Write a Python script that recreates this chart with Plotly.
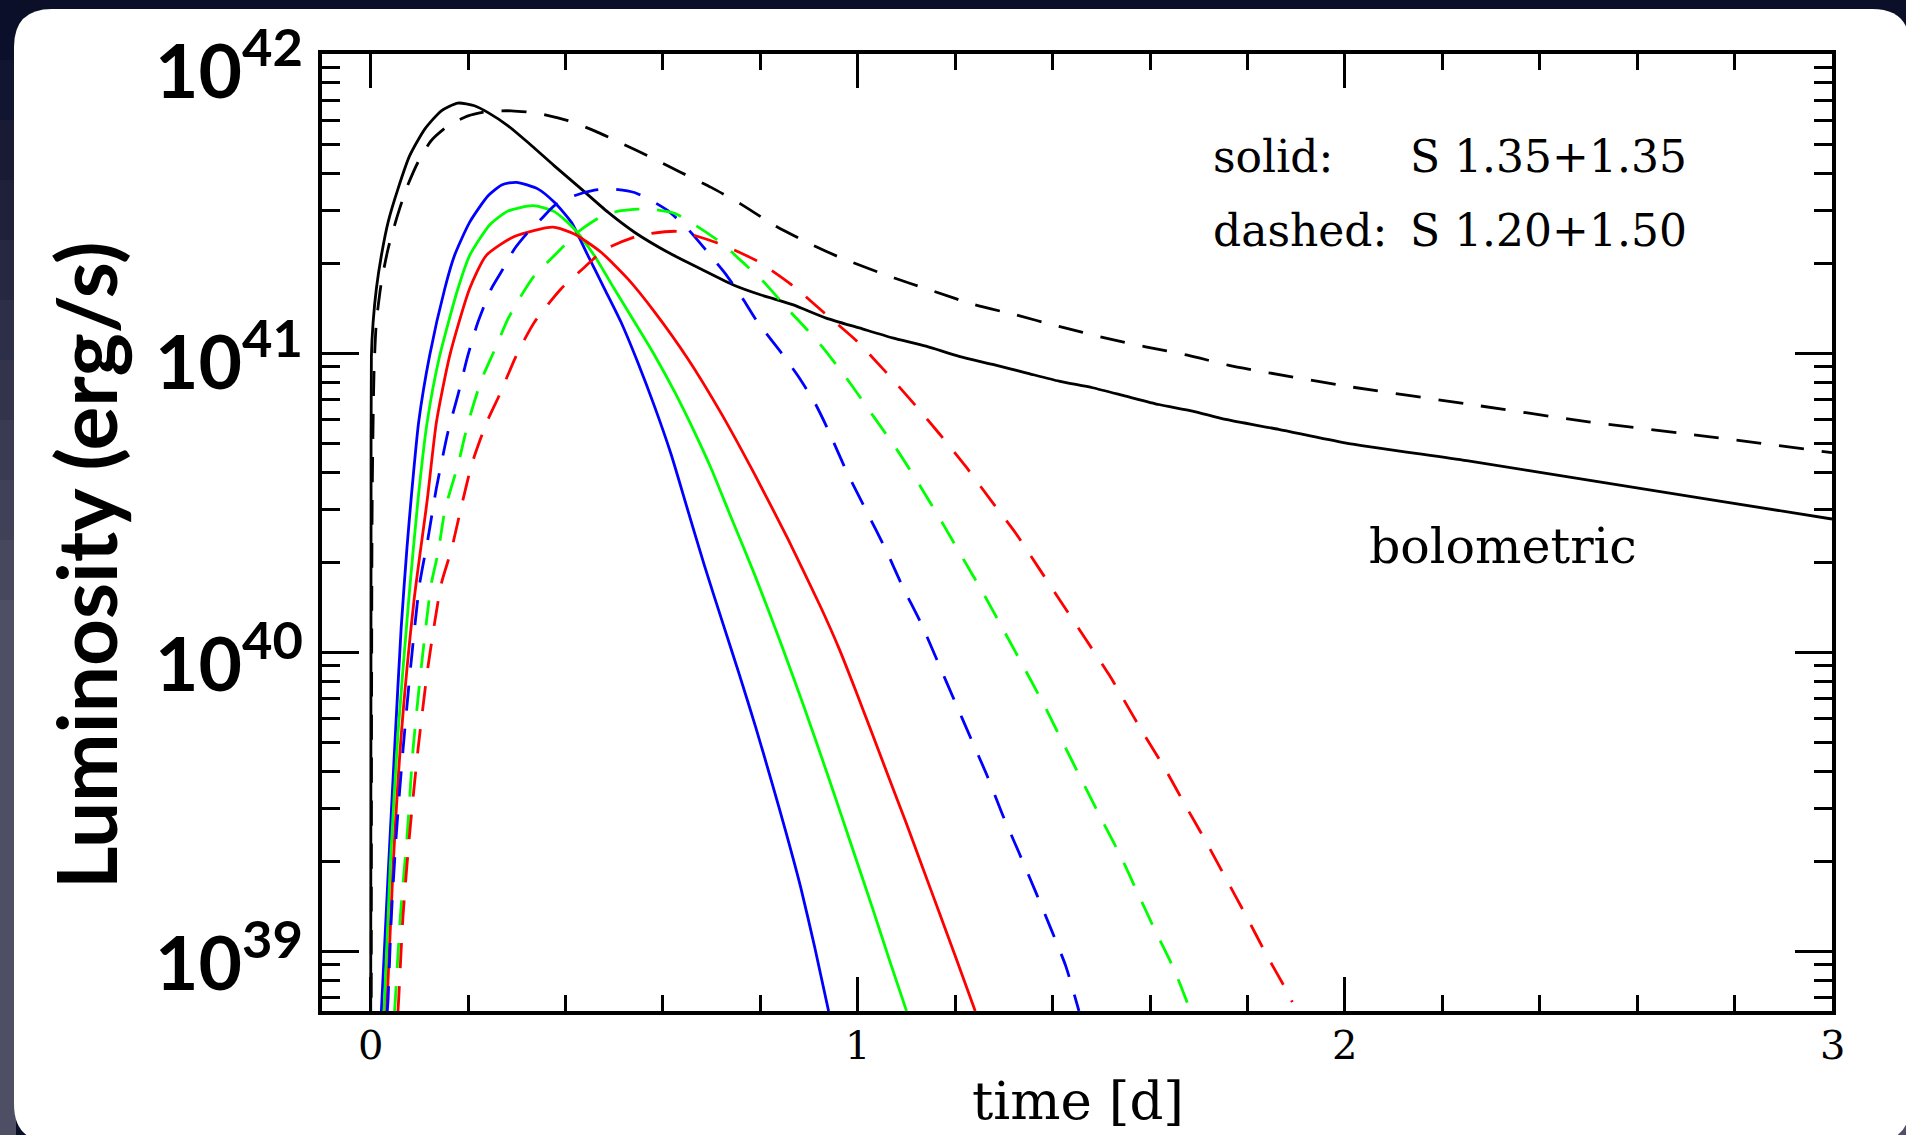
import numpy as np
import plotly.graph_objects as go

# ---------------- data (time in days, log10 luminosity in erg/s) ----------------
bol_solid_t = [0.0, 0.0007, 0.0014, 0.0048, 0.0116, 0.0219, 0.0356, 0.056, 0.080, 0.111,
               0.145, 0.179, 0.213, 0.241, 0.282, 0.323, 0.377, 0.432, 0.487, 0.5415,
               0.61, 0.678, 0.747, 0.80, 0.866, 0.935, 1.003, 1.071, 1.140, 1.208,
               1.277, 1.345, 1.413, 1.482, 1.550, 1.618, 1.687, 1.755, 1.864, 2.0,
               2.25, 2.5, 2.75, 3.0]
bol_solid_logL = [38.7, 40.5, 40.99, 41.10, 41.215, 41.326, 41.437, 41.549, 41.66, 41.749,
                  41.81, 41.836, 41.827, 41.804, 41.76, 41.704, 41.626, 41.549, 41.471, 41.404,
                  41.337, 41.281, 41.226, 41.195, 41.162, 41.117, 41.084, 41.051, 41.023, 40.989,
                  40.962, 40.934, 40.906, 40.884, 40.856, 40.828, 40.806, 40.778, 40.745, 40.70,
                  40.64, 40.575, 40.51, 40.445]

bol_dash_t = [0.001, 0.003, 0.0068, 0.0116, 0.0219, 0.0356, 0.0527, 0.073, 0.097, 0.124,
              0.159, 0.20, 0.241, 0.289, 0.343, 0.405, 0.4595, 0.514, 0.576, 0.637,
              0.699, 0.760, 0.833, 0.905, 0.966, 1.075, 1.157, 1.239, 1.321, 1.413,
              1.507, 1.591, 1.677, 1.762, 1.844, 2.0, 2.25, 2.5, 2.75, 3.0]
bol_dash_logL = [38.7, 40.5, 40.937, 41.103, 41.237, 41.348, 41.448, 41.549, 41.638, 41.71,
                 41.76, 41.793, 41.808, 41.81, 41.802, 41.777, 41.743, 41.702, 41.654, 41.604,
                 41.554, 41.498, 41.423, 41.363, 41.318, 41.251, 41.206, 41.162, 41.129, 41.089,
                 41.051, 41.021, 40.993, 40.959, 40.934, 40.89, 40.83, 40.77, 40.72, 40.667]

blue_solid_t = [0.0219, 0.0356, 0.0492, 0.0625, 0.0745, 0.0834, 0.0985, 0.121, 0.152, 0.172,
                0.203, 0.241, 0.270, 0.299, 0.343, 0.377, 0.412, 0.446, 0.48, 0.514,
                0.548, 0.583, 0.617, 0.650, 0.685, 0.723, 0.757, 0.790, 0.822, 0.853,
                0.883, 0.912, 0.940]
blue_solid_logL = [38.80, 39.25, 39.68, 40.08, 40.35, 40.52, 40.77, 40.992, 41.215, 41.326,
                   41.437, 41.526, 41.563, 41.571, 41.549, 41.504, 41.437, 41.326, 41.215, 41.103,
                   40.97, 40.82, 40.66, 40.48, 40.29, 40.096, 39.924, 39.751, 39.573, 39.395,
                   39.212, 39.01, 38.80]

green_solid_t = [0.0274, 0.040, 0.056, 0.078, 0.097, 0.116, 0.1415, 0.179, 0.203, 0.245,
                 0.282, 0.333, 0.377, 0.418, 0.459, 0.5, 0.542, 0.583, 0.624, 0.665,
                 0.70, 0.74, 0.788, 0.842, 0.89, 0.938, 0.965, 0.996, 1.030, 1.065,
                 1.100]
green_solid_logL = [38.80, 39.284, 39.729, 40.174, 40.508, 40.77, 40.99, 41.215, 41.326, 41.43,
                    41.475, 41.493, 41.473, 41.415, 41.326, 41.215, 41.103, 40.992, 40.87, 40.735,
                    40.61, 40.45, 40.26, 40.03, 39.815, 39.59, 39.46, 39.31, 39.145, 38.97,
                    38.80]

red_solid_t = [0.0328, 0.046, 0.063, 0.089, 0.116, 0.135, 0.162, 0.203, 0.237, 0.295,
               0.374, 0.418, 0.473, 0.528, 0.583, 0.651, 0.719, 0.788, 0.856, 0.924,
               0.962, 0.996, 1.030, 1.065, 1.099, 1.133, 1.167, 1.201, 1.241]
red_solid_logL = [38.80, 39.284, 39.729, 40.174, 40.508, 40.77, 40.99, 41.215, 41.326, 41.39,
                  41.421, 41.398, 41.337, 41.248, 41.137, 40.981, 40.80, 40.595, 40.38, 40.15,
                  40.01, 39.87, 39.725, 39.575, 39.43, 39.28, 39.13, 38.98, 38.80]

blue_dash_t = [0.034, 0.0356, 0.0424, 0.0527, 0.0663, 0.082, 0.1005, 0.1176, 0.1347, 0.1586,
               0.179, 0.1995, 0.22, 0.2475, 0.2715, 0.295, 0.323, 0.35, 0.377, 0.418,
               0.4595, 0.494, 0.5415, 0.576, 0.61, 0.651, 0.692, 0.726, 0.76, 0.7945,
               0.842, 0.8766, 0.911, 0.938, 0.977, 1.017, 1.058, 1.092, 1.130, 1.164,
               1.198, 1.232, 1.266, 1.297, 1.331, 1.366, 1.397, 1.427, 1.454]
blue_dash_logL = [38.80, 38.839, 39.117, 39.395, 39.673, 39.951, 40.229, 40.38, 40.547, 40.736,
                  40.859, 40.992, 41.103, 41.215, 41.281, 41.348, 41.404, 41.448, 41.493, 41.526,
                  41.545, 41.549, 41.537, 41.51, 41.476, 41.415, 41.337, 41.27, 41.192, 41.103,
                  41.003, 40.925, 40.836, 40.747, 40.604, 40.474, 40.341, 40.219, 40.096, 39.968,
                  39.84, 39.712, 39.585, 39.457, 39.329, 39.195, 39.073, 38.95, 38.80]

green_dash_t = [0.049, 0.0506, 0.0609, 0.0752, 0.0868, 0.1039, 0.1244, 0.138, 0.153, 0.179,
                0.1995, 0.227, 0.254, 0.282, 0.309, 0.336, 0.377, 0.429, 0.477, 0.514,
                0.569, 0.624, 0.668, 0.723, 0.760, 0.801, 0.856, 0.897, 0.93, 0.984,
                1.034, 1.082, 1.130, 1.175, 1.217, 1.261, 1.302, 1.343, 1.384, 1.422,
                1.461, 1.5, 1.540, 1.575, 1.612, 1.649, 1.683]
green_dash_logL = [38.80, 38.839, 39.117, 39.395, 39.673, 39.951, 40.229, 40.33, 40.48, 40.625,
                   40.764, 40.909, 41.009, 41.115, 41.192, 41.259, 41.326, 41.409, 41.46, 41.476,
                   41.482, 41.467, 41.426, 41.365, 41.309, 41.248, 41.148, 41.076, 41.015, 40.90,
                   40.784, 40.673, 40.55, 40.428, 40.31, 40.187, 40.065, 39.943, 39.818, 39.694,
                   39.568, 39.442, 39.317, 39.193, 39.064, 38.94, 38.80]

red_dash_t = [0.056, 0.0574, 0.0663, 0.08, 0.097, 0.1176, 0.145, 0.1655, 0.186, 0.208,
              0.2386, 0.2646, 0.299, 0.336, 0.391, 0.439, 0.48, 0.552, 0.630, 0.712,
              0.7945, 0.866, 0.932, 0.996, 1.054, 1.112, 1.167, 1.222, 1.273, 1.325,
              1.372, 1.420, 1.468, 1.516, 1.542, 1.586, 1.631, 1.672, 1.716, 1.757,
              1.798, 1.837, 1.880, 1.892]
red_dash_logL = [38.80, 38.839, 39.117, 39.395, 39.673, 39.951, 40.229, 40.341, 40.486, 40.631,
                 40.77, 40.861, 40.992, 41.103, 41.215, 41.287, 41.346, 41.393, 41.407, 41.368,
                 41.307, 41.226, 41.133, 41.043, 40.943, 40.837, 40.731, 40.62, 40.508, 40.396,
                 40.28, 40.161, 40.043, 39.924, 39.852, 39.729, 39.609, 39.489, 39.363, 39.239,
                 39.116, 38.994, 38.869, 38.83]

x_tick_vals = [0, 1, 2, 3]
x_tick_text = ["0", "1", "2", "3"]
y_tick_vals = [1e39, 1e40, 1e41, 1e42]
y_tick_text = ["10<sup>39</sup>", "10<sup>40</sup>", "10<sup>41</sup>", "10<sup>42</sup>"]
y_minor_vals = [k * 10.0 ** e for e in (38, 39, 40, 41) for k in range(2, 10)]

# ---------------- figure ----------------
W, H = 1906, 1135
ML, MR, MT, MB = 322, 74, 54, 124
PW, PH = W - ML - MR, H - MT - MB


def xp(px):
    return (px - ML) / PW


def yp(py):
    return (H - MB - py) / PH


curves = [
    (bol_solid_t, bol_solid_logL, "black", "solid"),
    (bol_dash_t, bol_dash_logL, "black", "25px,18px"),
    (blue_solid_t, blue_solid_logL, "#0000ff", "solid"),
    (green_solid_t, green_solid_logL, "#00ff00", "solid"),
    (red_solid_t, red_solid_logL, "#ff0000", "solid"),
    (blue_dash_t, blue_dash_logL, "#0000ff", "25px,18px"),
    (green_dash_t, green_dash_logL, "#00ff00", "25px,18px"),
    (red_dash_t, red_dash_logL, "#ff0000", "25px,18px"),
]

fig = go.Figure()
for t, lg, col, dash in curves:
    assert len(t) == len(lg)
    fig.add_trace(go.Scatter(x=t, y=10.0 ** np.array(lg), mode="lines",
                             line=dict(color=col, width=2.8, dash=dash, shape="spline", smoothing=0.6),
                             showlegend=False, hoverinfo="skip"))

# background: dark slide with white rounded panel
shapes = []
steps = 14
c0 = np.array([12, 15, 42])
c1 = np.array([78, 78, 100])
for i in range(steps):
    y0 = i * 60
    y1 = H + 20 if i == steps - 1 else (i + 1) * 60
    f = min(1.0, i / 10)
    c = (c0 + (c1 - c0) * f).astype(int)
    shapes.append(dict(type="rect", xref="paper", yref="paper", layer="below",
                       x0=xp(-5), x1=xp(16), y0=yp(y1), y1=yp(y0),
                       fillcolor="rgb(%d,%d,%d)" % tuple(c), line=dict(width=0)))
shapes.append(dict(type="rect", xref="paper", yref="paper", layer="below",
                   x0=xp(1700), x1=xp(W + 10), y0=yp(H + 10), y1=yp(900),
                   fillcolor="rgb(80,80,104)", line=dict(width=0)))

x0, x1, y0, y1, r = 14, 1910, 9, 1142, 38
pts = [
    ("M", [(x0 + r, y0)]), ("L", [(x1 - r, y0)]), ("Q", [(x1, y0), (x1, y0 + r)]),
    ("L", [(x1, y1 - r)]), ("Q", [(x1, y1), (x1 - r, y1)]), ("L", [(x0 + r, y1)]),
    ("Q", [(x0, y1), (x0, y1 - r)]), ("L", [(x0, y0 + r)]), ("Q", [(x0, y0), (x0 + r, y0)]),
]
path = ""
for cmd, pl in pts:
    path += cmd + " " + " ".join("%.5f,%.5f" % (xp(a), yp(b)) for a, b in pl) + " "
path += "Z"
shapes.append(dict(type="path", xref="paper", yref="paper", layer="below", path=path,
                   fillcolor="white", line=dict(width=0)))

serif = "DejaVu Serif"
annotations = [
    dict(text="Luminosity (erg/s)", textangle=-90, x=xp(85), y=yp(565), xref="paper", yref="paper",
         showarrow=False, xanchor="center", yanchor="middle",
         font=dict(family="Lato", size=82, color="black", weight="bold")),
    dict(text="solid:", x=xp(1211), y=yp(157), xref="paper", yref="paper", showarrow=False,
         xanchor="left", yanchor="middle", font=dict(family=serif, size=44, color="black")),
    dict(text="S 1.35+1.35", x=xp(1408), y=yp(157), xref="paper", yref="paper", showarrow=False,
         xanchor="left", yanchor="middle", font=dict(family=serif, size=44, color="black")),
    dict(text="dashed:", x=xp(1211), y=yp(231), xref="paper", yref="paper", showarrow=False,
         xanchor="left", yanchor="middle", font=dict(family=serif, size=44, color="black")),
    dict(text="S 1.20+1.50", x=xp(1408), y=yp(231), xref="paper", yref="paper", showarrow=False,
         xanchor="left", yanchor="middle", font=dict(family=serif, size=44, color="black")),
    dict(text="bolometric", x=xp(1503), y=yp(546), xref="paper", yref="paper", showarrow=False,
         xanchor="center", yanchor="middle", font=dict(family=serif, size=49, color="black")),
    dict(text="time [d]", x=xp(1078), y=yp(1100), xref="paper", yref="paper", showarrow=False,
         xanchor="center", yanchor="middle", font=dict(family=serif, size=53, color="black")),
]

# y tick labels placed on the log axis scale (label offsets are style only)
y_label_shift = [-5, -5, -2, -10]
for v, txt, dy in zip(y_tick_vals, y_tick_text, y_label_shift):
    annotations.append(dict(text=txt, x=xp(305), xref="paper", y=float(np.log10(v)), yref="y",
                            xanchor="right", yanchor="middle", yshift=dy, showarrow=False,
                            font=dict(family="Lato", size=75, color="black", weight="bold")))
# x tick labels placed on the x axis scale
for v, txt in zip(x_tick_vals, x_tick_text):
    annotations.append(dict(text=txt, x=v, xref="x", y=yp(1045), yref="paper",
                            xanchor="center", yanchor="middle", showarrow=False,
                            font=dict(family=serif, size=40, color="black")))

fig.update_layout(
    width=W, height=H,
    margin=dict(l=ML, r=MR, t=MT, b=MB, pad=0, autoexpand=False),
    paper_bgcolor="rgb(12,15,40)",
    plot_bgcolor="white",
    showlegend=False,
    shapes=shapes,
    annotations=annotations,
    xaxis=dict(
        automargin=False,
        range=[-0.1, 3.0], tickmode="array", tickvals=x_tick_vals, ticktext=x_tick_text,
        showticklabels=False,
        ticks="inside", ticklen=34, tickwidth=2.5, tickcolor="black",
        showline=True, linewidth=4, linecolor="black", mirror="ticks",
        showgrid=False, zeroline=False,
        minor=dict(ticks="inside", ticklen=16, tickwidth=2.5, tickcolor="black",
                   dtick=0.2, tick0=0, showgrid=False),
    ),
    yaxis=dict(
        automargin=False,
        type="log", range=[38.8, 42.0], tickmode="array", tickvals=y_tick_vals, ticktext=y_tick_text,
        showticklabels=False,
        ticks="inside", ticklen=37, tickwidth=2.5, tickcolor="black",
        showline=True, linewidth=4, linecolor="black", mirror="ticks",
        showgrid=False, zeroline=False,
        minor=dict(ticks="inside", ticklen=18, tickwidth=2.5, tickcolor="black",
                   tickmode="array", tickvals=y_minor_vals, showgrid=False),
    ),
)

fig.write_html("out.html", config={"displayModeBar": False},
               post_script="document.body.style.margin='0';document.body.style.overflow='hidden';")
